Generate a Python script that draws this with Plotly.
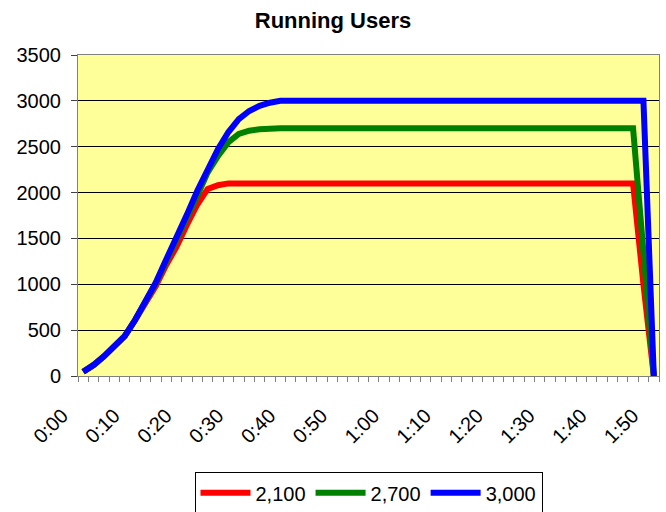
import plotly.graph_objects as go

categories = [
    "0:00", "0:02", "0:04", "0:06", "0:08", "0:10", "0:12", "0:14", "0:16", "0:18",
    "0:20", "0:22", "0:24", "0:26", "0:28", "0:30", "0:32", "0:34", "0:36", "0:38",
    "0:40", "0:42", "0:44", "0:46", "0:48", "0:50", "0:52", "0:54", "0:56", "0:58",
    "1:00", "1:02", "1:04", "1:06", "1:08", "1:10", "1:12", "1:14", "1:16", "1:18",
    "1:20", "1:22", "1:24", "1:26", "1:28", "1:30", "1:32", "1:34", "1:36", "1:38",
    "1:40", "1:42", "1:44", "1:46", "1:48", "1:50",
]

tick_labels = ["0:00", "0:10", "0:20", "0:30", "0:40", "0:50",
               "1:00", "1:10", "1:20", "1:30", "1:40", "1:50"]

users_2100 = [
    45, 120, 215, 320, 435, 610, 790, 980, 1210, 1410,
    1650, 1870, 2040, 2080, 2100, 2100, 2100, 2100, 2100, 2100,
    2100, 2100, 2100, 2100, 2100, 2100, 2100, 2100, 2100, 2100,
    2100, 2100, 2100, 2100, 2100, 2100, 2100, 2100, 2100, 2100,
    2100, 2100, 2100, 2100, 2100, 2100, 2100, 2100, 2100, 2100,
    2100, 2100, 2100, 2100, 1000, 0,
]

users_2700 = [
    45, 120, 215, 320, 435, 610, 800, 1010, 1250, 1470,
    1725, 1965, 2220, 2400, 2550, 2640, 2675, 2690, 2700, 2700,
    2700, 2700, 2700, 2700, 2700, 2700, 2700, 2700, 2700, 2700,
    2700, 2700, 2700, 2700, 2700, 2700, 2700, 2700, 2700, 2700,
    2700, 2700, 2700, 2700, 2700, 2700, 2700, 2700, 2700, 2700,
    2700, 2700, 2700, 2700, 1350, 0,
]

users_3000 = [
    45, 120, 215, 320, 435, 610, 800, 1020, 1270, 1500,
    1760, 2020, 2260, 2475, 2660, 2800, 2890, 2945, 2980, 3000,
    3000, 3000, 3000, 3000, 3000, 3000, 3000, 3000, 3000, 3000,
    3000, 3000, 3000, 3000, 3000, 3000, 3000, 3000, 3000, 3000,
    3000, 3000, 3000, 3000, 3000, 3000, 3000, 3000, 3000, 3000,
    3000, 3000, 3000, 3000, 3000, 0,
]

series = [
    ("2,100", users_2100, "#FF0000"),
    ("2,700", users_2700, "#008000"),
    ("3,000", users_3000, "#0000FF"),
]

FONT = "Arial, Liberation Sans, sans-serif"
idx = list(range(len(categories)))
tick_idx = [categories.index(t) for t in tick_labels]

fig = go.Figure()
for name, vals, color in series:
    fig.add_trace(go.Scatter(
        x=idx, y=vals, name=name, mode="lines",
        line=dict(color=color, width=6),
        customdata=categories,
        hovertemplate="%{customdata}: %{y}<extra>" + name + "</extra>",
    ))

fig.update_layout(
    width=666, height=512,
    margin=dict(l=78, r=7, t=55, b=136, autoexpand=False),
    paper_bgcolor="white",
    plot_bgcolor="#FFFF99",
    font=dict(family=FONT, size=20, color="black"),
    title=dict(text="<b>Running Users</b>", x=0.5, xref="container",
               y=1 - 20 / 512, yanchor="middle", xanchor="center",
               font=dict(family=FONT, size=22, color="black")),
    showlegend=True,
    legend=dict(orientation="h", x=0.5, xanchor="center",
                y=-0.3, yanchor="top",
                bordercolor="black", borderwidth=1, bgcolor="white",
                font=dict(family=FONT, size=20, color="black"),
                itemwidth=50, tracegroupgap=0),
)

fig.update_xaxes(
    range=[-0.5, len(categories) - 0.5],
    tickmode="array", tickvals=tick_idx, ticktext=tick_labels,
    tickangle=-45, ticks="", showgrid=False, zeroline=False,
    showline=True, linecolor="#808080", linewidth=1, mirror=True,
    tickfont=dict(family=FONT, size=20, color="black"),
    ticklabelshift=-21, ticklabelstandoff=19,
    minor=dict(ticks="outside", tickmode="linear", tick0=-0.5, dtick=1,
               ticklen=5, tickcolor="#808080", tickwidth=1, showgrid=False),
)

fig.update_yaxes(
    range=[0, 3500], tickmode="linear", tick0=0, dtick=500,
    ticks="outside", ticklen=6, tickcolor="#404040",
    showgrid=True, gridcolor="black", gridwidth=1, zeroline=False,
    showline=True, linecolor="#808080", linewidth=1, mirror=True,
    tickfont=dict(family=FONT, size=20, color="black"),
    ticklabelstandoff=6,
)

fig.write_html(
    "out.html",
    config={"displayModeBar": False},
    post_script="document.body.style.margin='0';document.body.style.overflow='hidden';",
)
